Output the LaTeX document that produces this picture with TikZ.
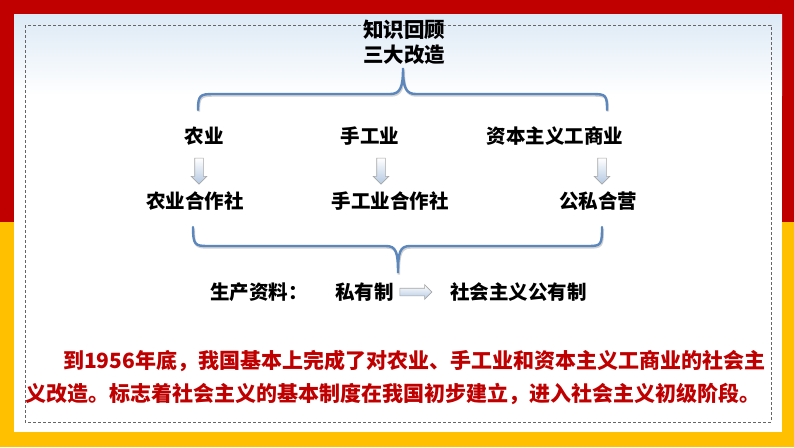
\documentclass[tikz,border=0pt]{standalone}
\usepackage{fontspec}
\setmainfont{Noto Sans CJK SC}
\usetikzlibrary{shapes.arrows, positioning}
\definecolor{framered}{HTML}{C00000}
\definecolor{frameyellow}{HTML}{FFC000}
\definecolor{bracecolor}{HTML}{5B87BC}
\definecolor{arrowfill}{HTML}{B3C8E2}
\definecolor{skyfill}{HTML}{DCE9F5}
\definecolor{notered}{HTML}{C00000}

\begin{document}
\begin{tikzpicture}[x=1pt, y=-1pt, every node/.style={inner sep=0pt}]

\tikzset{
  titletext/.style={font=\fontsize{20.5}{25}\selectfont\bfseries, align=center},
  itemtext/.style={font=\fontsize{19.5}{22}\selectfont\bfseries},
  notetext/.style={font=\fontsize{21}{24}\selectfont\bfseries, text=notered, anchor=west},
  blockarrow/.style={single arrow, draw=gray!70, line width=0.6pt,
    top color=white, bottom color=arrowfill, inner sep=4pt,
    single arrow head extend=3.5pt},
  downarrow/.style={blockarrow, shape border rotate=270, minimum height=26pt},
  rightarrow/.style={blockarrow, minimum height=32pt, inner sep=3.5pt},
  bracepath/.style={draw=bracecolor, line width=2.4pt, line cap=round,
    preaction={draw=black!18, line width=2.4pt,
      transform canvas={xshift=0.8pt, yshift=-1.5pt}}},
}

\useasboundingbox (0,0) rectangle (794,447);

% ---- frame ----
\fill[framered] (0,0) rectangle (794,222);
\fill[frameyellow] (0,222) rectangle (794,447);
\fill[white] (14,14) rectangle (782,432);
\shade[top color=skyfill, bottom color=white] (14,14) rectangle (782,95);
\draw[gray!80!black, line width=0.6pt, dash pattern=on 3pt off 2pt] (25,25) rectangle (771,422);

% ---- title and upper brace ----
\node[titletext] (title) at (404,42) {知识回顾\\三大改造};
\draw[bracepath] (198,110) .. controls (198,95) and (200,94) .. (214,94) -- (390,94)
  .. controls (400,94) and (403,88) .. (403,68)
  .. controls (403,88) and (406,94) .. (416,94) -- (592,94)
  .. controls (606,94) and (607,95) .. (607,110);

% ---- three trades ----
\node[itemtext] (farm) at (204,136) {农业};
\node[itemtext] (craft) at (370,136) {手工业};
\node[itemtext] (capital) at (555,136) {资本主义工商业};
\node[downarrow] (farmarrow) at (199,169) {};
\node[downarrow] (craftarrow) at (381,169) {};
\node[downarrow] (capitalarrow) at (602,169) {};
\node[itemtext] (farmcoop) at (195,201) {农业合作社};
\node[itemtext] (craftcoop) at (390,201) {手工业合作社};
\node[itemtext] (jointop) at (598,201) {公私合营};

% ---- lower brace and ownership ----
\draw[bracepath] (193,227) .. controls (193,245) and (195,246) .. (208,246) -- (386,246)
  .. controls (396,246) and (398,252) .. (398,273)
  .. controls (398,252) and (400,246) .. (410,246) -- (588,246)
  .. controls (601,246) and (602,245) .. (602,227);
\node[itemtext, anchor=west] (means) at (210,292) {生产资料：};
\node[itemtext, anchor=west] (private) at (335,292) {私有制};
\node[rightarrow] (ownarrow) at (414,292) {};
\node[itemtext, anchor=west] (public) at (450,292) {社会主义公有制};

% ---- summary ----
\node[notetext] (note1) at (63,361) {到1956年底，我国基本上完成了对农业、手工业和资本主义工商业的社会主};
\node[notetext] (note2) at (25,394) {义改造。标志着社会主义的基本制度在我国初步建立，进入社会主义初级阶段。};

\end{tikzpicture}
\end{document}
